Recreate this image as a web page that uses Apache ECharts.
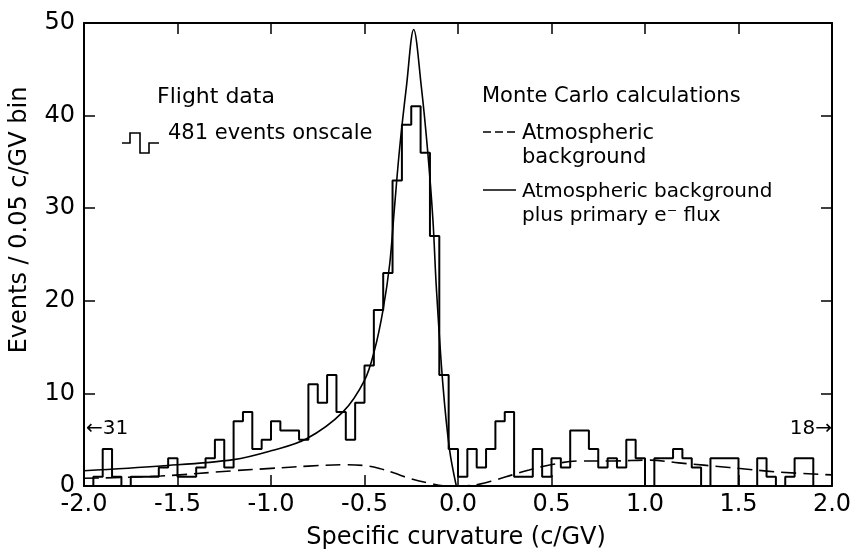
<!DOCTYPE html>
<html>
<head>
<meta charset="utf-8">
<script src="https://cdn.jsdelivr.net/npm/echarts/dist/echarts.min.js"></script>
<style>
  html, body { margin: 0; padding: 0; background: #fff; }
  #chart { width: 856px; height: 554px; }
</style>
</head>
<body>
<div id="chart"></div>
<script>
// histogram: 80 bins of 0.05 c/GV from -2.0 to 2.0
var binStart = -2.0
var binWidth = 0.05
var binCounts = [
  0, 1, 4, 1, 0, 1, 1, 1, 2, 3,
  1, 1, 2, 3, 5, 2, 7, 8, 4, 5,
  7, 6, 6, 5, 11, 9, 12, 8, 5, 9,
  13, 19, 23, 33, 39, 41, 36, 27, 12, 4,
  1, 4, 2, 4, 7, 8, 1, 1, 4, 1,
  3, 2, 6, 6, 4, 2, 3, 2, 5, 3,
  0, 3, 3, 4, 3, 2, 0, 3, 3, 3,
  0, 0, 3, 1, 0, 1, 3, 3, 0, 0
]

// Monte Carlo: atmospheric background plus primary e- flux (solid)
var solidX = [-2.0, -1.59, -1.2, -1.0, -0.81, -0.615, -0.5, -0.446, -0.401, -0.365, -0.34, -0.312, -0.276, -0.237, -0.196, -0.161, -0.134, -0.116, -0.081, -0.045, -0.009]
var solidY = [1.65, 2.16, 2.85, 3.8, 5.1, 8.0, 11.4, 14.7, 19.0, 24.0, 30.0, 36.5, 43.1, 49.3, 43.1, 35.9, 28.7, 21.5, 11.0, 3.9, 0]

// Monte Carlo: atmospheric background (dashed)
var dashedX = [-2.0, -1.59, -1.2, -1.0, -0.8, -0.6, -0.5, -0.42, -0.34, -0.26, -0.15, -0.08, 0.03, 0.115, 0.2, 0.29, 0.38, 0.49, 0.65, 0.83, 1.02, 1.18, 1.45, 1.72, 2.0]
var dashedY = [0.83, 1.08, 1.65, 1.9, 2.15, 2.3, 2.2, 1.9, 1.4, 0.83, 0.29, 0.03, 0.03, 0.2, 0.65, 1.2, 1.73, 2.27, 2.7, 2.7, 2.8, 2.5, 2.0, 1.5, 1.2]

var xTickLabels = ['-2.0', '-1.5', '-1.0', '-0.5', '0.0', '0.5', '1.0', '1.5', '2.0']
var yTickLabels = ['0', '10', '20', '30', '40', '50']

var FONT = 'DejaVu Sans'

var histData = binCounts.map(function (c, i) {
  return [binStart + i * binWidth, c]
})
histData.push([binStart + binCounts.length * binWidth, binCounts[binCounts.length - 1]])

var solidData = solidX.map(function (x, i) { return [x, solidY[i]] })
var dashedData = dashedX.map(function (x, i) { return [x, dashedY[i]] })

function mkX(pos, labels) {
  return {
    type: 'value', position: pos, min: -2, max: 2, interval: 0.5,
    axisLine: { show: true, onZero: false, lineStyle: { color: '#000', width: 2 } },
    axisTick: { show: true, inside: true, length: 11, lineStyle: { color: '#000', width: 1.5 } },
    splitLine: { show: false },
    axisLabel: {
      show: labels, margin: 7, color: '#000', fontFamily: FONT, fontSize: 24,
      formatter: function (v) { return xTickLabels[Math.round((v + 2) / 0.5)] }
    }
  }
}
function mkY(pos, labels) {
  return {
    type: 'value', position: pos, min: 0, max: 50, interval: 10,
    axisLine: { show: true, onZero: false, lineStyle: { color: '#000', width: 2 } },
    axisTick: { show: true, inside: true, length: 11, lineStyle: { color: '#000', width: 1.5 } },
    splitLine: { show: false },
    axisLabel: {
      show: labels, margin: 9, color: '#000', fontFamily: FONT, fontSize: 24,
      formatter: function (v) { return yTickLabels[Math.round(v / 10)] }
    }
  }
}

function txt(x, y, s, size, align) {
  return {
    type: 'text', x: x, y: y, z: 10,
    style: { text: s, fill: '#000', font: size + 'px "' + FONT + '"', align: align || 'left', verticalAlign: 'middle' }
  }
}

var chart = echarts.init(document.getElementById('chart'))
chart.setOption({
  animation: false,
  backgroundColor: '#fff',
  grid: { left: 84, right: 24, top: 23, bottom: 68 },
  xAxis: [mkX('bottom', true), mkX('top', false)],
  yAxis: [mkY('left', true), mkY('right', false)],
  series: [
    {
      name: 'Flight data', type: 'line', step: 'end', data: histData,
      showSymbol: false, lineStyle: { color: '#000', width: 2 }, z: 5
    },
    {
      name: 'Atmospheric background plus primary e- flux', type: 'line', data: solidData,
      smooth: 0.35, showSymbol: false,
      lineStyle: { color: '#000', width: 1.6 }, z: 4
    },
    {
      name: 'Atmospheric background', type: 'line', data: dashedData,
      smooth: 0.4, showSymbol: false,
      lineStyle: { color: '#000', width: 1.6, type: [15, 7] }, z: 4
    }
  ],
  graphic: [
    // axis titles
    txt(456, 538, 'Specific curvature (c/GV)', 24, 'center'),
    {
      type: 'text', x: 20, y: 220, rotation: Math.PI / 2, z: 10,
      style: { text: 'Events / 0.05 c/GV bin', fill: '#000', font: '24px "' + FONT + '"', align: 'center', verticalAlign: 'middle' }
    },
    // flight data key
    txt(157, 97, 'Flight data', 22),
    {
      type: 'polyline', z: 10,
      shape: { points: [[122, 143], [130, 143], [130, 133], [140, 133], [140, 153], [149, 153], [149, 143], [159, 143]] },
      style: { stroke: '#000', lineWidth: 1.6, fill: null }
    },
    txt(168, 134, '481 events onscale', 21),
    // monte carlo key
    txt(482, 97, 'Monte Carlo calculations', 21),
    {
      type: 'line', z: 10, shape: { x1: 483, y1: 132, x2: 515, y2: 132 },
      style: { stroke: '#000', lineWidth: 1.6, lineDash: [8, 4] }
    },
    txt(522, 134, 'Atmospheric', 21),
    txt(522, 158, 'background', 21),
    {
      type: 'line', z: 10, shape: { x1: 483, y1: 190, x2: 516, y2: 190 },
      style: { stroke: '#000', lineWidth: 1.6 }
    },
    txt(522, 192, 'Atmospheric background', 20),
    txt(522, 216, 'plus primary e\u207B flux', 20),
    // off-scale counts
    txt(86, 429, '\u219031', 20),
    txt(832, 429, '18\u2192', 20, 'right')
  ]
})
</script>
</body>
</html>
